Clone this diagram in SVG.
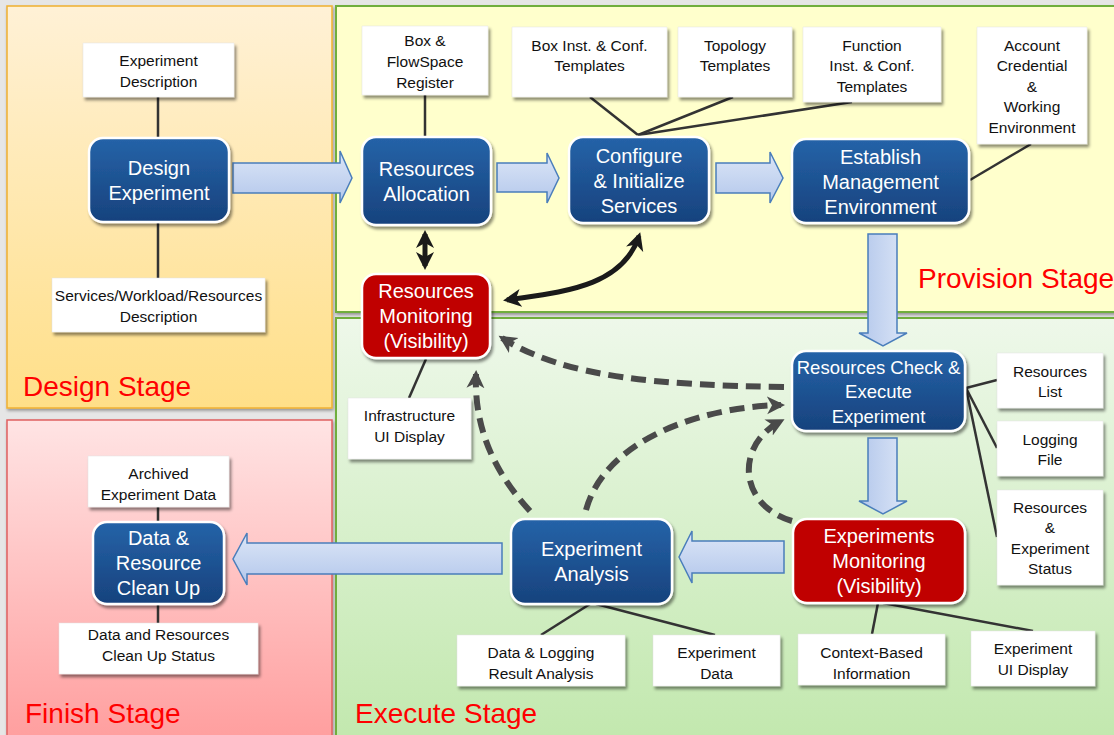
<svg xmlns="http://www.w3.org/2000/svg" width="1114" height="735" viewBox="0 0 1114 735">
<defs>
<linearGradient id="gDesign" x1="0" y1="0" x2="0" y2="1"><stop offset="0" stop-color="#FFF1D6"/><stop offset="1" stop-color="#FFDF88"/></linearGradient>
<linearGradient id="gFinish" x1="0" y1="0" x2="0" y2="1"><stop offset="0" stop-color="#FFE4E4"/><stop offset="1" stop-color="#FF9E9E"/></linearGradient>
<linearGradient id="gExec" x1="0" y1="0" x2="0" y2="1"><stop offset="0" stop-color="#EEF8EA"/><stop offset="1" stop-color="#C2E8AE"/></linearGradient>
<linearGradient id="gBlue" x1="0" y1="0" x2="0" y2="1"><stop offset="0" stop-color="#2563A8"/><stop offset="1" stop-color="#17427D"/></linearGradient>
<linearGradient id="gArrH" x1="0" y1="0" x2="0" y2="1"><stop offset="0" stop-color="#DCE6F7"/><stop offset="1" stop-color="#B3C7EB"/></linearGradient>
<linearGradient id="gArrV" x1="0" y1="0" x2="1" y2="0"><stop offset="0" stop-color="#B3C7EB"/><stop offset="1" stop-color="#DCE6F7"/></linearGradient>
<filter id="sh" x="-10%" y="-10%" width="130%" height="130%"><feDropShadow dx="2" dy="3" stdDeviation="1.5" flood-color="#000" flood-opacity="0.45"/></filter>
<filter id="shp" x="-5%" y="-5%" width="110%" height="110%"><feDropShadow dx="1" dy="2" stdDeviation="1.5" flood-color="#000" flood-opacity="0.35"/></filter>
<marker id="mk" markerUnits="userSpaceOnUse" viewBox="0 0 20 20" markerWidth="20" markerHeight="20" refX="14" refY="10" orient="auto-start-reverse"><path d="M0,1 L18,10 L0,19 L5,10 Z" fill="#1A1A1A"/></marker>
<marker id="md" markerUnits="userSpaceOnUse" viewBox="0 0 20 20" markerWidth="20" markerHeight="20" refX="14" refY="10" orient="auto"><path d="M0,1 L18,10 L0,19 L5,10 Z" fill="#4A4A4A"/></marker>
<style>
.bn{fill:url(#gBlue);stroke:#fff;stroke-width:2.5;filter:url(#sh)}
.rn{fill:#C00000;stroke:#fff;stroke-width:2.5;filter:url(#sh)}
.wb{fill:#fff;stroke:#E4E4E4;stroke-width:0.5;filter:url(#sh)}
.nt{font-family:"Liberation Sans",Arial,sans-serif;font-size:20px;fill:#fff;text-anchor:middle}
.wt{font-family:"Liberation Sans",Arial,sans-serif;font-size:15.5px;fill:#111;text-anchor:middle}
.st{font-family:"Liberation Sans",Arial,sans-serif;font-size:28px;fill:#FF0000}
.ln{stroke:#333;stroke-width:2.5;fill:none}
.ba{stroke:#4A7EBB;stroke-width:1.5}
.dl{stroke:#4A4A4A;stroke-width:6;stroke-dasharray:15 8;fill:none;marker-end:url(#md)}
.kl{stroke:#1A1A1A;stroke-width:5;fill:none;marker-start:url(#mk);marker-end:url(#mk)}
</style>
</defs>
<rect x="0" y="0" width="1114" height="735" fill="#E6E6E6"/>
<g id="stages">
<rect x="7" y="6" width="325" height="402" fill="url(#gDesign)" stroke="#F0B030" stroke-width="1.5" filter="url(#shp)"/>
<rect x="336" y="6" width="790" height="306" fill="#FFFFCC" stroke="#6FAE3E" stroke-width="2" filter="url(#shp)"/>
<rect x="7" y="420" width="325" height="320" fill="url(#gFinish)" stroke="#E06060" stroke-width="1.5" filter="url(#shp)"/>
<rect x="336" y="318" width="790" height="422" fill="url(#gExec)" stroke="#6FAE3E" stroke-width="2" filter="url(#shp)"/>
<text class="st" x="23" y="396">Design Stage</text>
<text class="st" x="918" y="288">Provision Stage</text>
<text class="st" x="25" y="723">Finish Stage</text>
<text class="st" x="355" y="723">Execute Stage</text>
</g>
<g id="connectors">
<line class="ln" x1="158" y1="97" x2="158" y2="138"/>
<line class="ln" x1="158" y1="222" x2="158" y2="278"/>
<line class="ln" x1="425" y1="95" x2="425" y2="137"/>
<line class="ln" x1="638" y1="135" x2="590" y2="97"/>
<line class="ln" x1="638" y1="135" x2="733" y2="97"/>
<line class="ln" x1="638" y1="135" x2="852" y2="102"/>
<line class="ln" x1="970" y1="180" x2="1031" y2="144"/>
<line class="ln" x1="966" y1="388" x2="997" y2="380"/>
<line class="ln" x1="966" y1="388" x2="997" y2="448"/>
<line class="ln" x1="966" y1="388" x2="997" y2="537"/>
<line class="ln" x1="426" y1="359" x2="409" y2="398"/>
<line class="ln" x1="590" y1="604" x2="541" y2="635"/>
<line class="ln" x1="596" y1="604" x2="715" y2="635"/>
<line class="ln" x1="878" y1="603" x2="872" y2="634"/>
<line class="ln" x1="883" y1="603" x2="1033" y2="631"/>
<line class="ln" x1="158" y1="507" x2="158" y2="522"/>
<line class="ln" x1="158" y1="604" x2="158" y2="623"/>
<path class="ba" fill="url(#gArrH)" d="M233,163 H340 V151 L352,178 L340,203 V193 H233 Z"/>
<path class="ba" fill="url(#gArrH)" d="M497,163 H547 V153 L559,178 L547,203 V192 H497 Z"/>
<path class="ba" fill="url(#gArrH)" d="M716,163 H770 V152 L783,178 L770,203 V193 H716 Z"/>
<path class="ba" fill="url(#gArrV)" d="M868,234 H897 V333 H907 L883,346 L859,333 H868 Z"/>
<path class="ba" fill="url(#gArrV)" d="M868,438 H897 V501 H907 L883,514 L859,501 H868 Z"/>
<path class="ba" fill="url(#gArrH)" d="M784,541 V573 H692 V583 L679,557 L692,531 V541 Z"/>
<path class="ba" fill="url(#gArrH)" d="M502,543 V574 H247 V585 L233,559 L247,533 V543 Z"/>
<path class="kl" d="M425,234 L425,266"/>
<path class="kl" d="M639,236 C622,288 560,292 507,300"/>
<path class="dl" d="M784,387 C660,385 565,378 502,338"/>
<path class="dl" d="M530,511 C492,470 474,425 476,374"/>
<path class="dl" d="M586,510 C605,440 700,407 781,405"/>
<path class="dl" d="M792,521 C738,505 735,445 781,421"/>
</g>
<g id="n-exp-desc"><rect class="wb" x="83" y="43" width="151" height="54"/><text class="wt" x="158.5" y="66">Experiment</text><text class="wt" x="158.5" y="87">Description</text></g>
<g id="n-design"><rect class="bn" x="89" y="138" width="140" height="84" rx="14"/><text class="nt" x="159" y="175">Design</text><text class="nt" x="159" y="200">Experiment</text></g>
<g id="n-swr-desc"><rect class="wb" x="52" y="278" width="213" height="54"/><text class="wt" x="158.5" y="301">Services/Workload/Resources</text><text class="wt" x="158.5" y="322">Description</text></g>
<g id="n-box-fs"><rect class="wb" x="362" y="26" width="126" height="69"/><text class="wt" x="425" y="46">Box &amp;</text><text class="wt" x="425" y="67">FlowSpace</text><text class="wt" x="425" y="88">Register</text></g>
<g id="n-ra"><rect class="bn" x="362" y="137" width="129" height="88" rx="14"/><text class="nt" x="426.5" y="176">Resources</text><text class="nt" x="426.5" y="201">Allocation</text></g>
<g id="n-box-inst"><rect class="wb" x="512" y="27" width="155" height="70"/><text class="wt" x="589.5" y="51">Box Inst. &amp; Conf.</text><text class="wt" x="589.5" y="71">Templates</text></g>
<g id="n-topo"><rect class="wb" x="678" y="27" width="114" height="70"/><text class="wt" x="735" y="51">Topology</text><text class="wt" x="735" y="71">Templates</text></g>
<g id="n-func"><rect class="wb" x="803" y="27" width="138" height="75"/><text class="wt" x="872" y="51">Function</text><text class="wt" x="872" y="71">Inst. &amp; Conf.</text><text class="wt" x="872" y="92">Templates</text></g>
<g id="n-account"><rect class="wb" x="977" y="27" width="110" height="117"/><text class="wt" x="1032" y="51">Account</text><text class="wt" x="1032" y="71">Credential</text><text class="wt" x="1032" y="92">&amp;</text><text class="wt" x="1032" y="112">Working</text><text class="wt" x="1032" y="133">Environment</text></g>
<g id="n-config"><rect class="bn" x="569" y="137" width="140" height="86" rx="14"/><text class="nt" x="639" y="163">Configure</text><text class="nt" x="639" y="188">&amp; Initialize</text><text class="nt" x="639" y="213">Services</text></g>
<g id="n-establish"><rect class="bn" x="792" y="139" width="177" height="84" rx="14"/><text class="nt" x="880.5" y="164">Establish</text><text class="nt" x="880.5" y="189">Management</text><text class="nt" x="880.5" y="214">Environment</text></g>
<g id="n-rm"><rect class="rn" x="362" y="274" width="128" height="84" rx="14"/><text class="nt" x="426" y="298">Resources</text><text class="nt" x="426" y="323">Monitoring</text><text class="nt" x="426" y="348">(Visibility)</text></g>
<g id="n-infra"><rect class="wb" x="348" y="398" width="123" height="61"/><text class="wt" x="409.5" y="421">Infrastructure</text><text class="wt" x="409.5" y="442">UI Display</text></g>
<g id="n-rc"><rect class="bn" x="792" y="351" width="173" height="80" rx="14"/><text class="nt" x="878.5" y="374" style="font-size:18.5px">Resources Check &amp;</text><text class="nt" x="878.5" y="398" style="font-size:18.5px">Execute</text><text class="nt" x="878.5" y="423" style="font-size:18.5px">Experiment</text></g>
<g id="n-res-list"><rect class="wb" x="997" y="353" width="106" height="55"/><text class="wt" x="1050" y="377">Resources</text><text class="wt" x="1050" y="397">List</text></g>
<g id="n-log"><rect class="wb" x="997" y="421" width="106" height="55"/><text class="wt" x="1050" y="445">Logging</text><text class="wt" x="1050" y="465">File</text></g>
<g id="n-status"><rect class="wb" x="997" y="490" width="106" height="95"/><text class="wt" x="1050" y="513">Resources</text><text class="wt" x="1050" y="533">&amp;</text><text class="wt" x="1050" y="554">Experiment</text><text class="wt" x="1050" y="574">Status</text></g>
<g id="n-em"><rect class="rn" x="793" y="519" width="172" height="84" rx="14"/><text class="nt" x="879" y="543">Experiments</text><text class="nt" x="879" y="568">Monitoring</text><text class="nt" x="879" y="593">(Visibility)</text></g>
<g id="n-ea"><rect class="bn" x="511" y="519" width="161" height="85" rx="14"/><text class="nt" x="591.5" y="556">Experiment</text><text class="nt" x="591.5" y="581">Analysis</text></g>
<g id="n-archived"><rect class="wb" x="88" y="456" width="141" height="51"/><text class="wt" x="158.5" y="479">Archived</text><text class="wt" x="158.5" y="500">Experiment Data</text></g>
<g id="n-cleanup"><rect class="bn" x="93" y="522" width="131" height="82" rx="14"/><text class="nt" x="158.5" y="545">Data &amp;</text><text class="nt" x="158.5" y="570">Resource</text><text class="nt" x="158.5" y="595">Clean Up</text></g>
<g id="n-cleanup-status"><rect class="wb" x="59" y="623" width="199" height="51"/><text class="wt" x="158.5" y="640">Data and Resources</text><text class="wt" x="158.5" y="661">Clean Up Status</text></g>
<g id="n-dl-result"><rect class="wb" x="457" y="635" width="168" height="51"/><text class="wt" x="541" y="658">Data &amp; Logging</text><text class="wt" x="541" y="679">Result Analysis</text></g>
<g id="n-exp-data"><rect class="wb" x="653" y="635" width="127" height="51"/><text class="wt" x="716.5" y="658">Experiment</text><text class="wt" x="716.5" y="679">Data</text></g>
<g id="n-context"><rect class="wb" x="798" y="634" width="147" height="51"/><text class="wt" x="871.5" y="658">Context-Based</text><text class="wt" x="871.5" y="679">Information</text></g>
<g id="n-exp-ui"><rect class="wb" x="971" y="631" width="124" height="55"/><text class="wt" x="1033" y="654">Experiment</text><text class="wt" x="1033" y="675">UI Display</text></g>
</svg>
